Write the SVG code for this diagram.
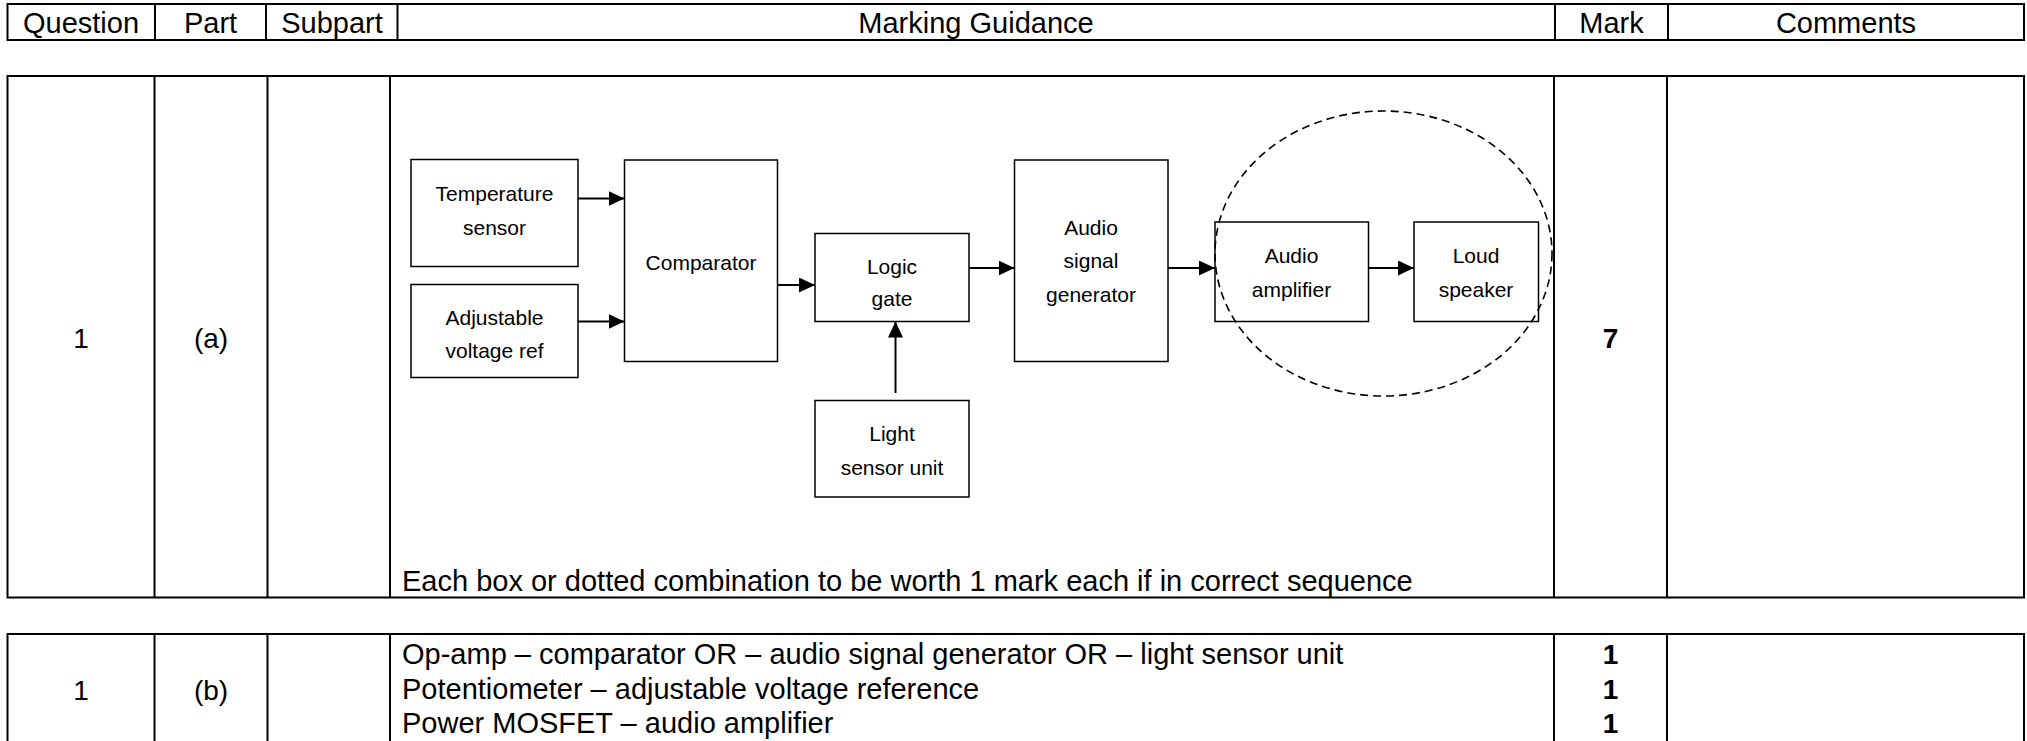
<svg xmlns="http://www.w3.org/2000/svg" width="2027" height="741" viewBox="0 0 2027 741">
<style>
.grid{fill:none;stroke:#000;stroke-width:2}
.hd{font-family:"Liberation Sans",Arial,sans-serif;font-size:29px;fill:#000;text-anchor:middle}
.cell{font-family:"Liberation Sans",Arial,sans-serif;font-size:28px;fill:#000;text-anchor:middle}
.body{font-family:"Liberation Sans",Arial,sans-serif;font-size:29px;fill:#000}
.mk{font-family:"Liberation Sans",Arial,sans-serif;font-size:28px;font-weight:bold;fill:#000;text-anchor:middle}
.box{fill:#fff;stroke:#000;stroke-width:1.5}
.lbl{font-family:"Liberation Sans",Arial,sans-serif;font-size:21px;fill:#000;text-anchor:middle}
.wire{fill:none;stroke:#000;stroke-width:2;marker-end:url(#ah)}
.dash{fill:none;stroke:#000;stroke-width:1.6;stroke-dasharray:8 5}
</style>
<defs>
<marker id="ah" markerUnits="userSpaceOnUse" markerWidth="16" markerHeight="15" viewBox="0 0 16 15" refX="16" refY="7.5" orient="auto">
<path d="M0,0 L16,7.5 L0,15 z" fill="#000"/>
</marker>
</defs>
<rect width="2027" height="741" fill="#fff"/>

<g id="header">
<rect class="grid" x="7.5" y="4" width="2016.5" height="36"/>
<line class="grid" x1="155" y1="4" x2="155" y2="40"/>
<line class="grid" x1="266" y1="4" x2="266" y2="40"/>
<line class="grid" x1="397.5" y1="4" x2="397.5" y2="40"/>
<line class="grid" x1="1555" y1="4" x2="1555" y2="40"/>
<line class="grid" x1="1668" y1="4" x2="1668" y2="40"/>
<text class="hd" x="81" y="32.5">Question</text>
<text class="hd" x="210.5" y="32.5">Part</text>
<text class="hd" x="332" y="32.5">Subpart</text>
<text class="hd" x="976" y="32.5">Marking Guidance</text>
<text class="hd" x="1611.5" y="32.5">Mark</text>
<text class="hd" x="1846" y="32.5">Comments</text>
</g>

<g id="tableA">
<rect class="grid" x="7.5" y="76" width="2016.5" height="521.5"/>
<line class="grid" x1="154.5" y1="76" x2="154.5" y2="597.5"/>
<line class="grid" x1="267.5" y1="76" x2="267.5" y2="597.5"/>
<line class="grid" x1="390" y1="76" x2="390" y2="597.5"/>
<line class="grid" x1="1554" y1="76" x2="1554" y2="597.5"/>
<line class="grid" x1="1667" y1="76" x2="1667" y2="597.5"/>
<text class="cell" x="81" y="348">1</text>
<text class="cell" x="211" y="348">(a)</text>
<text class="mk" x="1610.5" y="348">7</text>
<text class="body" x="402" y="591">Each box or dotted combination to be worth 1 mark each if in correct sequence</text>
</g>

<g id="tableB">
<path class="grid" d="M7.5,745 V634 H2024 V745"/>
<line class="grid" x1="154.5" y1="634" x2="154.5" y2="745"/>
<line class="grid" x1="267.5" y1="634" x2="267.5" y2="745"/>
<line class="grid" x1="390" y1="634" x2="390" y2="745"/>
<line class="grid" x1="1554" y1="634" x2="1554" y2="745"/>
<line class="grid" x1="1667" y1="634" x2="1667" y2="745"/>
<text class="cell" x="81" y="700">1</text>
<text class="cell" x="211" y="700">(b)</text>
<text class="body" x="402" y="664">Op-amp – comparator OR – audio signal generator OR – light sensor unit</text>
<text class="body" x="402" y="699">Potentiometer – adjustable voltage reference</text>
<text class="body" x="402" y="733">Power MOSFET – audio amplifier</text>
<text class="mk" x="1610.5" y="664">1</text>
<text class="mk" x="1610.5" y="699">1</text>
<text class="mk" x="1610.5" y="733">1</text>
</g>

<g id="temperature-sensor">
<rect class="box" x="411" y="159.5" width="167" height="107"/>
<text class="lbl" x="494.5" y="201">Temperature</text>
<text class="lbl" x="494.5" y="235">sensor</text>
</g>
<g id="adjustable-voltage-ref">
<rect class="box" x="411" y="284.5" width="167" height="93"/>
<text class="lbl" x="494.5" y="325">Adjustable</text>
<text class="lbl" x="494.5" y="358">voltage ref</text>
</g>
<g id="comparator">
<rect class="box" x="624.5" y="160" width="153" height="201.5"/>
<text class="lbl" x="701" y="270">Comparator</text>
</g>
<g id="logic-gate">
<rect class="box" x="815" y="233.5" width="154" height="88"/>
<text class="lbl" x="892" y="274">Logic</text>
<text class="lbl" x="892" y="306">gate</text>
</g>
<g id="light-sensor-unit">
<rect class="box" x="815" y="400.5" width="154" height="96.5"/>
<text class="lbl" x="892" y="441">Light</text>
<text class="lbl" x="892" y="475">sensor unit</text>
</g>
<g id="audio-signal-generator">
<rect class="box" x="1014.5" y="160" width="153.5" height="201.5"/>
<text class="lbl" x="1091" y="235">Audio</text>
<text class="lbl" x="1091" y="268">signal</text>
<text class="lbl" x="1091" y="302">generator</text>
</g>
<g id="audio-amplifier">
<rect class="box" x="1215" y="222" width="153.5" height="99.5"/>
<text class="lbl" x="1291.5" y="263">Audio</text>
<text class="lbl" x="1291.5" y="297">amplifier</text>
</g>
<g id="loud-speaker">
<rect class="box" x="1414" y="222" width="124.5" height="99.5"/>
<text class="lbl" x="1476" y="263">Loud</text>
<text class="lbl" x="1476" y="297">speaker</text>
</g>
<g id="dotted-combination">
<ellipse class="dash" cx="1383.5" cy="253.5" rx="168.5" ry="142.5"/>
</g>

<g id="connectors">
<line class="wire" x1="578" y1="198.5" x2="624.5" y2="198.5"/>
<line class="wire" x1="578" y1="321.5" x2="624.5" y2="321.5"/>
<line class="wire" x1="777.5" y1="285" x2="815" y2="285"/>
<line class="wire" x1="969" y1="268" x2="1014.5" y2="268"/>
<line class="wire" x1="1168" y1="268" x2="1215" y2="268"/>
<line class="wire" x1="1368.5" y1="268" x2="1414" y2="268"/>
<line class="wire" x1="895.5" y1="393" x2="895.5" y2="321.5"/>
</g>
</svg>
